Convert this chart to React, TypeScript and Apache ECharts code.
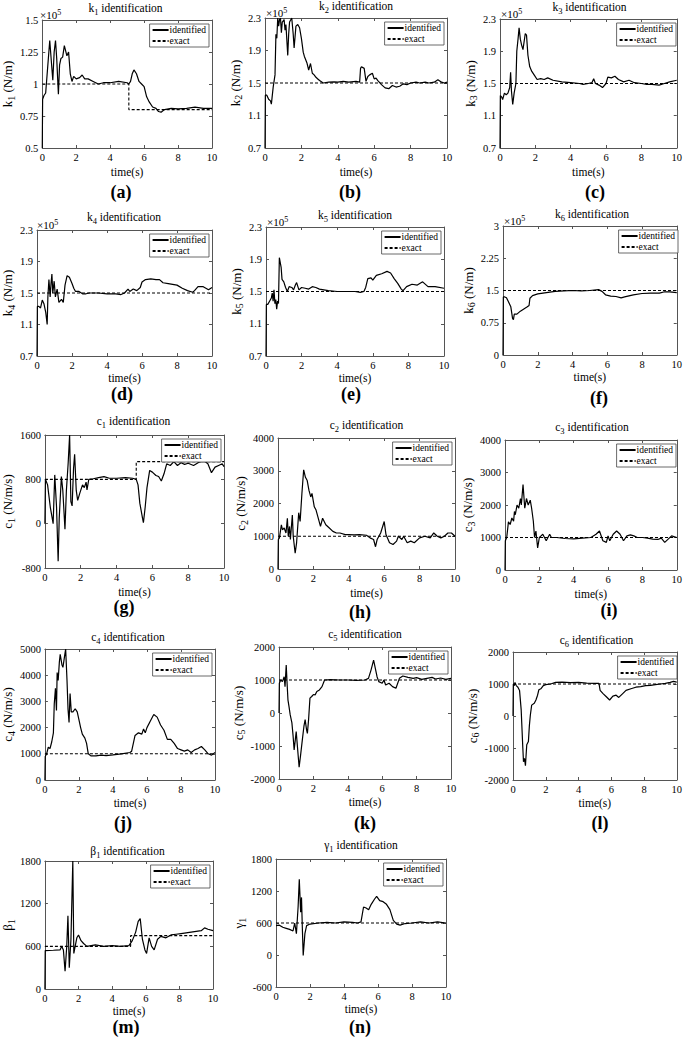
import React, { useEffect, useRef } from "react";
import * as echarts from "echarts";

const FONT = "'Liberation Serif', 'Times New Roman', serif";

// ---------- tick values ----------
const timeTicks = [0, 2, 4, 6, 8, 10];
const k1Ticks = [0.5, 0.75, 1, 1.25, 1.5];
const kTicks = [0.7, 1.1, 1.5, 1.9, 2.3];
const k6Ticks = [0, 0.75, 1.5, 2.25, 3];
const c1Ticks = [-800, 0, 800, 1600];
const c23Ticks = [0, 1000, 2000, 3000, 4000];
const c4Ticks = [0, 1000, 2000, 3000, 4000, 5000];
const c56Ticks = [-2000, -1000, 0, 1000, 2000];
const betaTicks = [0, 600, 1200, 1800];
const gammaTicks = [-600, 0, 600, 1200, 1800];

// ---------- data: [time(s), value] ----------
const k1Identified = [[0,0.5],[0.02,0.88],[0.1,0.91],[0.2,0.93],[0.3,1.1],[0.44,1.34],[0.55,1.15],[0.62,1.03],[0.7,1.25],[0.78,1.34],[0.85,1.2],[0.95,0.92],[1.02,1.15],[1.1,1.2],[1.2,1.21],[1.3,1.3],[1.45,1.22],[1.55,1.25],[1.65,1.08],[1.75,1.02],[1.85,1.06],[2.0,1.04],[2.2,1.05],[2.35,1.07],[2.5,1.04],[2.7,1.04],[3.0,1.02],[3.3,1.0],[3.6,1.01],[4.0,1.01],[4.5,1.02],[5.0,1.01],[5.1,1.0],[5.2,1.02],[5.3,1.08],[5.4,1.11],[5.55,1.08],[5.7,1.02],[5.85,1.0],[6.0,0.98],[6.15,0.9],[6.3,0.86],[6.5,0.82],[6.7,0.81],[6.85,0.785],[7.0,0.78],[7.2,0.8],[7.6,0.81],[8.0,0.805],[8.5,0.81],[9.0,0.82],[9.5,0.81],[10,0.81]];
const k1Exact = [[0,1],[5.1,1],[5.1,0.8],[10,0.8]];

const k2Identified = [[0,0.7],[0.02,1.35],[0.1,1.35],[0.2,1.3],[0.3,1.28],[0.35,1.24],[0.45,1.45],[0.55,1.6],[0.6,2.1],[0.65,2.05],[0.7,2.3],[0.75,2.2],[0.8,2.28],[0.85,2.3],[0.9,2.12],[0.95,2.25],[1.05,2.28],[1.1,2.15],[1.15,2.22],[1.25,1.84],[1.3,2.1],[1.35,2.25],[1.47,2.3],[1.55,2.1],[1.6,1.93],[1.7,2.2],[1.8,2.22],[1.9,2.18],[2.0,2.05],[2.1,1.88],[2.16,1.83],[2.3,1.75],[2.4,1.66],[2.5,1.74],[2.6,1.62],[2.7,1.6],[2.8,1.57],[2.9,1.55],[3.0,1.53],[3.2,1.5],[3.5,1.51],[3.8,1.515],[4.0,1.51],[4.3,1.52],[4.6,1.51],[5.0,1.52],[5.2,1.51],[5.25,1.68],[5.3,1.7],[5.45,1.68],[5.55,1.52],[5.65,1.58],[5.75,1.6],[5.9,1.62],[6.0,1.55],[6.1,1.56],[6.2,1.53],[6.4,1.48],[6.6,1.44],[6.8,1.43],[7.0,1.47],[7.2,1.45],[7.4,1.46],[7.6,1.49],[7.8,1.48],[8.0,1.5],[8.3,1.51],[8.5,1.5],[8.8,1.51],[9.0,1.5],[9.3,1.51],[9.5,1.54],[9.7,1.51],[9.85,1.5],[10,1.51]];
const k3Identified = [[0,0.7],[0.02,1.35],[0.1,1.33],[0.15,1.3],[0.25,1.38],[0.35,1.36],[0.45,1.38],[0.55,1.45],[0.6,1.64],[0.65,1.4],[0.72,1.24],[0.8,1.38],[0.9,1.5],[0.95,1.9],[1.02,2.05],[1.08,2.19],[1.15,2.05],[1.22,1.98],[1.3,1.92],[1.43,2.12],[1.5,2.1],[1.58,1.85],[1.68,1.71],[1.8,1.65],[1.95,1.6],[2.1,1.55],[2.3,1.56],[2.5,1.55],[2.7,1.57],[3.0,1.54],[3.5,1.52],[4.0,1.51],[4.5,1.5],[4.7,1.49],[5.0,1.5],[5.2,1.51],[5.3,1.56],[5.4,1.5],[5.6,1.48],[5.8,1.45],[6.0,1.5],[6.1,1.58],[6.3,1.57],[6.5,1.59],[6.7,1.55],[7.0,1.52],[7.3,1.54],[7.6,1.51],[8.0,1.5],[8.3,1.49],[8.6,1.49],[9.0,1.48],[9.3,1.5],[9.6,1.52],[10,1.54]];
const k4Identified = [[0,0.7],[0.02,1.33],[0.1,1.33],[0.2,1.31],[0.3,1.41],[0.4,1.36],[0.5,1.25],[0.58,1.1],[0.62,1.45],[0.68,1.67],[0.75,1.45],[0.8,1.62],[0.85,1.74],[0.9,1.5],[0.98,1.65],[1.05,1.45],[1.15,1.55],[1.25,1.38],[1.4,1.42],[1.5,1.38],[1.6,1.6],[1.72,1.72],[1.85,1.7],[2.0,1.62],[2.1,1.56],[2.2,1.52],[2.4,1.52],[2.6,1.49],[2.8,1.49],[3.0,1.5],[3.5,1.5],[4.0,1.49],[4.5,1.49],[4.8,1.48],[5.0,1.5],[5.2,1.55],[5.3,1.52],[5.5,1.55],[5.7,1.53],[5.9,1.57],[6.0,1.64],[6.2,1.67],[6.5,1.68],[6.8,1.67],[7.0,1.67],[7.2,1.63],[7.5,1.62],[8.0,1.6],[8.3,1.56],[8.6,1.53],[8.9,1.51],[9.0,1.53],[9.2,1.58],[9.5,1.58],[9.8,1.54],[10,1.57]];
const k5Identified = [[0,0.7],[0.02,1.34],[0.1,1.34],[0.2,1.38],[0.3,1.42],[0.35,1.48],[0.4,1.38],[0.45,1.52],[0.5,1.35],[0.55,1.4],[0.6,1.28],[0.65,1.38],[0.7,1.35],[0.75,1.92],[0.85,1.8],[0.9,1.65],[1.0,1.62],[1.1,1.55],[1.2,1.5],[1.3,1.56],[1.45,1.55],[1.55,1.52],[1.65,1.58],[1.72,1.61],[1.85,1.52],[2.0,1.55],[2.2,1.54],[2.4,1.53],[2.6,1.56],[2.8,1.55],[3.0,1.53],[3.5,1.51],[4.0,1.5],[4.5,1.5],[5.0,1.5],[5.3,1.49],[5.5,1.5],[5.6,1.55],[5.72,1.66],[5.9,1.67],[6.0,1.64],[6.2,1.7],[6.5,1.72],[6.8,1.75],[7.0,1.73],[7.2,1.66],[7.4,1.6],[7.6,1.53],[7.7,1.51],[7.9,1.56],[8.2,1.59],[8.5,1.58],[8.8,1.62],[9.1,1.56],[9.5,1.56],[10,1.54]];
const k6Identified = [[0,0],[0.02,1.35],[0.1,1.35],[0.2,1.33],[0.3,1.25],[0.45,1.12],[0.55,0.85],[0.6,0.82],[0.65,0.95],[0.8,0.95],[1.0,1.02],[1.2,1.07],[1.4,1.12],[1.5,1.15],[1.55,1.32],[1.7,1.38],[2.0,1.42],[2.5,1.45],[3.0,1.48],[3.5,1.49],[4.0,1.5],[4.5,1.49],[5.0,1.5],[5.5,1.52],[5.7,1.48],[5.9,1.4],[6.2,1.37],[6.5,1.36],[6.8,1.33],[7.0,1.35],[7.5,1.4],[8.0,1.43],[8.5,1.44],[9.0,1.44],[9.3,1.47],[9.6,1.47],[10,1.45]];
const kExact = [[0,1.5],[10,1.5]];

const c1Identified = [[0,0],[0.03,800],[0.15,700],[0.3,300],[0.46,0],[0.55,880],[0.65,300],[0.74,-680],[0.8,100],[0.92,850],[1.0,600],[1.12,-100],[1.2,600],[1.3,1100],[1.38,1600],[1.45,400],[1.52,320],[1.6,1000],[1.66,1250],[1.75,600],[1.83,420],[1.95,550],[2.1,700],[2.2,650],[2.3,750],[2.35,610],[2.45,800],[2.7,810],[3.0,830],[3.3,850],[3.6,820],[4.0,820],[4.5,830],[4.9,820],[5.1,800],[5.2,700],[5.3,370],[5.45,100],[5.5,20],[5.6,300],[5.7,650],[5.85,960],[6.0,930],[6.2,870],[6.35,850],[6.5,770],[6.65,900],[6.8,1080],[7.0,1050],[7.2,1120],[7.4,1050],[7.6,1100],[7.8,1070],[8.0,1090],[8.3,1050],[8.6,1110],[8.9,1130],[9.1,1080],[9.3,920],[9.5,1020],[9.7,1050],[9.9,1080],[10,1030]];
const c1Exact = [[0,800],[5.1,800],[5.1,1120],[10,1120]];

const c2Identified = [[0,0],[0.02,900],[0.08,950],[0.19,1350],[0.25,1200],[0.35,1250],[0.45,1100],[0.53,1550],[0.58,1000],[0.65,1300],[0.7,900],[0.81,1650],[0.86,1000],[0.97,480],[1.05,800],[1.17,1720],[1.25,1450],[1.35,2300],[1.45,3030],[1.55,2800],[1.65,2700],[1.75,2400],[1.85,2200],[1.92,2310],[2.05,1900],[2.15,1800],[2.3,1500],[2.4,1300],[2.52,1550],[2.7,1350],[2.9,1250],[3.1,1150],[3.3,1100],[3.5,1100],[3.8,1050],[4.0,1050],[4.3,1040],[4.6,1050],[5.0,1030],[5.2,950],[5.4,900],[5.51,680],[5.6,900],[5.8,1100],[6.0,1450],[6.1,1050],[6.3,800],[6.5,750],[6.7,850],[6.8,1000],[7.0,900],[7.1,1000],[7.3,800],[7.5,850],[7.7,800],[8.0,950],[8.3,1000],[8.6,950],[8.8,1100],[9.0,1000],[9.2,950],[9.4,1000],[9.6,1100],[9.8,1100],[10,1000]];
const c3Identified = [[0,0],[0.02,900],[0.1,1000],[0.2,1480],[0.3,1400],[0.4,1600],[0.5,1500],[0.55,1800],[0.6,1700],[0.7,2000],[0.8,1900],[0.9,2200],[0.95,2000],[1.05,2630],[1.15,1900],[1.25,2200],[1.35,2000],[1.47,2150],[1.55,1900],[1.65,1500],[1.72,1000],[1.8,1200],[1.9,680],[2.0,1000],[2.1,1050],[2.2,1100],[2.4,900],[2.6,1100],[2.7,1000],[3.0,1000],[3.5,970],[4.0,960],[4.5,980],[5.0,1000],[5.3,1100],[5.5,1200],[5.7,900],[5.9,850],[6.0,1050],[6.1,900],[6.3,1100],[6.5,1200],[6.7,1100],[6.9,900],[7.1,1050],[7.3,1080],[7.5,1050],[7.7,1000],[8.0,1000],[8.3,980],[8.6,950],[8.9,940],[9.1,980],[9.3,850],[9.5,950],[9.7,1050],[10,1000]];
const c4Identified = [[0,0],[0.02,900],[0.1,1000],[0.2,1250],[0.3,1200],[0.4,1450],[0.5,1800],[0.55,2900],[0.62,3500],[0.68,2650],[0.72,4100],[0.78,3800],[0.85,4500],[0.9,4800],[1.0,4400],[1.06,4300],[1.15,4700],[1.22,5000],[1.3,3800],[1.36,2700],[1.42,2200],[1.48,3300],[1.55,2600],[1.65,2600],[1.78,2720],[1.9,2600],[2.0,2300],[2.1,2000],[2.2,1750],[2.35,1600],[2.45,1400],[2.55,1000],[2.7,920],[3.0,920],[3.3,950],[3.6,930],[4.0,960],[4.5,1000],[5.0,1050],[5.1,1100],[5.3,1700],[5.5,1800],[5.7,1750],[5.8,1950],[5.9,1800],[6.0,2000],[6.2,2250],[6.4,2500],[6.6,2400],[6.8,2100],[7.0,1900],[7.2,1550],[7.4,1550],[7.6,1400],[7.8,1200],[8.0,1150],[8.2,1100],[8.4,1150],[8.6,1050],[8.8,1150],[9.0,1200],[9.2,1280],[9.4,1150],[9.6,1000],[9.8,950],[10,1050]];
const c5Identified = [[0,0],[0.02,900],[0.1,1000],[0.2,950],[0.3,1100],[0.35,800],[0.42,1450],[0.47,900],[0.52,400],[0.58,200],[0.65,-50],[0.75,-300],[0.82,-700],[0.88,-1120],[0.95,-800],[1.0,-560],[1.1,-1200],[1.17,-1640],[1.25,-1300],[1.36,-800],[1.45,-400],[1.52,-200],[1.6,-500],[1.65,-620],[1.72,-200],[1.8,450],[1.9,500],[2.0,560],[2.1,550],[2.2,650],[2.35,700],[2.5,800],[2.65,1000],[3.0,1010],[3.5,1000],[4.0,1000],[4.5,990],[5.0,1000],[5.2,1050],[5.35,1300],[5.5,1600],[5.6,1350],[5.7,1100],[5.8,950],[6.0,900],[6.1,1000],[6.2,850],[6.4,900],[6.6,800],[6.8,750],[7.0,1050],[7.2,1120],[7.5,1080],[7.8,1050],[8.0,1070],[8.3,1020],[8.6,1050],[8.9,1080],[9.1,1030],[9.4,1060],[9.7,1020],[10,1050]];
const c6Identified = [[0,0],[0.02,1000],[0.08,950],[0.12,1050],[0.2,950],[0.3,900],[0.4,800],[0.5,190],[0.6,-1000],[0.64,-1430],[0.7,-1320],[0.76,-1550],[0.84,-900],[0.94,-800],[1.0,-300],[1.06,30],[1.14,340],[1.3,400],[1.4,500],[1.5,650],[1.58,820],[1.7,850],[1.85,950],[2.0,980],[2.3,1000],[2.6,1050],[3.0,1060],[3.5,1040],[4.0,1050],[4.5,1030],[5.0,1020],[5.25,1020],[5.32,800],[5.5,700],[5.7,600],[5.9,500],[6.1,620],[6.3,650],[6.46,580],[6.7,700],[6.9,800],[7.2,850],[7.5,900],[7.8,920],[8.1,950],[8.4,960],[8.7,980],[9.0,1000],[9.3,1020],[9.6,1050],[9.8,1080],[10,1060]];
const cExact = [[0,1000],[10,1000]];

const betaIdentified = [[0,0],[0.02,540],[0.5,545],[0.9,550],[1.0,600],[1.1,550],[1.2,250],[1.3,600],[1.37,1030],[1.45,300],[1.55,700],[1.66,1800],[1.72,500],[1.8,600],[1.9,720],[2.0,760],[2.15,680],[2.3,640],[2.5,600],[3.0,620],[3.5,600],[4.0,610],[4.5,600],[5.0,610],[5.2,680],[5.4,800],[5.55,950],[5.67,990],[5.8,700],[5.95,550],[6.05,500],[6.2,720],[6.35,600],[6.5,550],[6.7,700],[6.9,740],[7.2,720],[7.5,760],[7.8,770],[8.1,780],[8.4,790],[8.7,800],[9.0,810],[9.3,820],[9.5,860],[9.7,840],[10,820]];
const betaExact = [[0,600],[5.1,600],[5.1,750],[10,750]];

const gammaIdentified = [[0,550],[0.2,560],[0.4,520],[0.6,500],[0.8,480],[1.0,450],[1.1,600],[1.2,400],[1.3,900],[1.37,1420],[1.45,800],[1.5,1080],[1.55,500],[1.6,-10],[1.7,400],[1.8,550],[2.0,580],[2.5,600],[3.0,610],[3.5,600],[4.0,620],[4.5,610],[4.8,600],[5.0,620],[5.15,900],[5.3,880],[5.45,850],[5.6,950],[5.8,1050],[5.92,1100],[6.1,1020],[6.3,1000],[6.5,950],[6.7,850],[6.9,650],[7.1,580],[7.3,560],[7.6,590],[8.0,600],[8.5,620],[9.0,600],[9.5,620],[10,600]];
const gammaExact = [[0,600],[10,600]];

// ---------- panel layout ----------
type Panel = {
  sym: string; sub: string; unit: string; label: string;
  grid: number[]; ticks: number[]; ident: number[][]; exact: number[][];
  exp: boolean; nameGap: number; titleY: number; labelX: number; labelY: number; xNameGap: number;
};

const panels: Panel[] = [
  { sym: "k", sub: "1", unit: " (N/m)", label: "(a)", grid: [39, 20, 173, 128], ticks: k1Ticks, ident: k1Identified, exact: k1Exact, exp: true, nameGap: 23, titleY: 8, labelX: 121, labelY: 192, xNameGap: 18 },
  { sym: "k", sub: "2", unit: " (N/m)", label: "(b)", grid: [265, 18, 182, 130], ticks: kTicks, ident: k2Identified, exact: kExact, exp: true, nameGap: 19, titleY: 6, labelX: 350, labelY: 192, xNameGap: 18 },
  { sym: "k", sub: "3", unit: " (N/m)", label: "(c)", grid: [500, 19, 179, 129], ticks: kTicks, ident: k3Identified, exact: kExact, exp: true, nameGap: 20, titleY: 7, labelX: 595, labelY: 192, xNameGap: 18 },
  { sym: "k", sub: "4", unit: " (N/m)", label: "(d)", grid: [36, 230, 176, 126], ticks: kTicks, ident: k4Identified, exact: kExact, exp: true, nameGap: 20, titleY: 217, labelX: 122, labelY: 394, xNameGap: 16 },
  { sym: "k", sub: "5", unit: " (N/m)", label: "(e)", grid: [266, 227, 178, 129], ticks: kTicks, ident: k5Identified, exact: kExact, exp: true, nameGap: 20, titleY: 215, labelX: 351, labelY: 394, xNameGap: 16 },
  { sym: "k", sub: "6", unit: " (N/m)", label: "(f)", grid: [503, 226, 178, 129], ticks: k6Ticks, ident: k6Identified, exact: kExact, exp: true, nameGap: 25, titleY: 214, labelX: 599, labelY: 398, xNameGap: 16 },
  { sym: "c", sub: "1", unit: " (N/m/s)", label: "(g)", grid: [43, 435, 181, 133], ticks: c1Ticks, ident: c1Identified, exact: c1Exact, exp: false, nameGap: 27, titleY: 421, labelX: 124, labelY: 607, xNameGap: 18 },
  { sym: "c", sub: "2", unit: " (N/m/s)", label: "(h)", grid: [278, 438, 177, 131], ticks: c23Ticks, ident: c2Identified, exact: cExact, exp: false, nameGap: 29, titleY: 425, labelX: 360, labelY: 612, xNameGap: 18 },
  { sym: "c", sub: "3", unit: " (N/m/s)", label: "(i)", grid: [505, 440, 174, 130], ticks: c23Ticks, ident: c3Identified, exact: cExact, exp: false, nameGap: 29, titleY: 427, labelX: 609, labelY: 610, xNameGap: 18 },
  { sym: "c", sub: "4", unit: " (N/m/s)", label: "(j)", grid: [41, 649, 174, 131], ticks: c4Ticks, ident: c4Identified, exact: cExact, exp: false, nameGap: 26, titleY: 637, labelX: 123, labelY: 823, xNameGap: 17 },
  { sym: "c", sub: "5", unit: " (N/m/s)", label: "(k)", grid: [279, 647, 172, 132], ticks: c56Ticks, ident: c5Identified, exact: cExact, exp: false, nameGap: 31, titleY: 634, labelX: 365, labelY: 823, xNameGap: 17 },
  { sym: "c", sub: "6", unit: " (N/m/s)", label: "(l)", grid: [513, 652, 167, 128], ticks: c56Ticks, ident: c6Identified, exact: cExact, exp: false, nameGap: 28, titleY: 640, labelX: 600, labelY: 823, xNameGap: 17 },
  { sym: "β", sub: "1", unit: "", label: "(m)", grid: [42, 861, 171, 128], ticks: betaTicks, ident: betaIdentified, exact: betaExact, exp: false, nameGap: 25, titleY: 851, labelX: 126, labelY: 1027, xNameGap: 16 },
  { sym: "γ", sub: "1", unit: "", label: "(n)", grid: [276, 859, 170, 128], ticks: gammaTicks, ident: gammaIdentified, exact: gammaExact, exp: false, nameGap: 26, titleY: 845, labelX: 360, labelY: 1027, xNameGap: 16 },
];

const AXIS_COLOR = "#555";
const W = 685;

function richStyles(size: number) {
  return {
    m: { fontFamily: FONT, fontSize: size, color: "#000", fill: "#000" },
    s: { fontFamily: FONT, fontSize: size - 3, color: "#000", fill: "#000", padding: [7, 0, 0, 0] },
    p: { fontFamily: FONT, fontSize: size - 3, color: "#000", fill: "#000", padding: [0, 0, 6, 0] },
  };
}

function buildOption() {
  const grid: any[] = [];
  const xAxis: any[] = [];
  const yAxis: any[] = [];
  const series: any[] = [];
  const legend: any[] = [];
  const elements: any[] = [];

  panels.forEach((p, i) => {
    const [l, t, w, h] = p.grid;
    const ymin = p.ticks[0];
    const ymax = p.ticks[p.ticks.length - 1];
    grid.push({ left: l, top: t, width: w, height: h, containLabel: false });
    const lineStyle = { color: AXIS_COLOR, width: 1 };
    const tickStyle = { color: AXIS_COLOR, width: 1 };
    xAxis.push({
      type: "value", gridIndex: i, min: 0, max: 10, position: "bottom",
      axisLine: { show: true, onZero: false, lineStyle },
      axisTick: { show: true, inside: true, length: 3, customValues: timeTicks, lineStyle: tickStyle },
      axisLabel: { customValues: timeTicks, color: "#000", fontSize: 10.5, fontFamily: FONT, margin: 4, formatter: (v: number) => String(v) },
      splitLine: { show: false },
      name: "time(s)", nameLocation: "middle", nameGap: p.xNameGap,
      nameTextStyle: { fontFamily: FONT, fontSize: 11.5, color: "#000" },
    });
    xAxis.push({
      type: "value", gridIndex: i, min: 0, max: 10, position: "top",
      axisLine: { show: true, onZero: false, lineStyle },
      axisTick: { show: true, inside: true, length: 3, customValues: timeTicks, lineStyle: tickStyle },
      axisLabel: { show: false }, splitLine: { show: false },
    });
    yAxis.push({
      type: "value", gridIndex: i, min: ymin, max: ymax, position: "left",
      axisLine: { show: true, onZero: false, lineStyle },
      axisTick: { show: true, inside: true, length: 3, customValues: p.ticks, lineStyle: tickStyle },
      axisLabel: { customValues: p.ticks, color: "#000", fontSize: 10.5, fontFamily: FONT, margin: 4, formatter: (v: number) => String(v) },
      splitLine: { show: false },
      name: `{m|${p.sym}}{s|${p.sub}}{m|${p.unit}}`, nameLocation: "middle", nameGap: p.nameGap, nameRotate: 90,
      nameTextStyle: { fontFamily: FONT, fontSize: 13, color: "#000", rich: richStyles(13) },
    });
    yAxis.push({
      type: "value", gridIndex: i, min: ymin, max: ymax, position: "right",
      axisLine: { show: true, onZero: false, lineStyle },
      axisTick: { show: true, inside: true, length: 3, customValues: p.ticks, lineStyle: tickStyle },
      axisLabel: { show: false }, splitLine: { show: false },
    });
    series.push({
      type: "line", name: "identified", xAxisIndex: 2 * i, yAxisIndex: 2 * i, data: p.ident,
      symbol: "none", showSymbol: false, lineStyle: { color: "#000", width: 1.2 }, itemStyle: { color: "#000" }, z: 3,
    });
    series.push({
      type: "line", name: "exact", xAxisIndex: 2 * i, yAxisIndex: 2 * i, data: p.exact,
      symbol: "none", showSymbol: false, lineStyle: { color: "#000", width: 1.1, type: [3, 2] }, itemStyle: { color: "#000" }, z: 2,
    });
    legend.push({
      data: ["identified", "exact"], orient: "vertical",
      right: W - (l + w) + 3, top: t + 4,
      itemWidth: 16, itemHeight: 9, itemGap: 1,
      padding: [1, 3, 1, 2],
      itemStyle: { opacity: 0 },
      backgroundColor: "#fff", borderColor: "#444", borderWidth: 0.8, borderRadius: 0,
      textStyle: { fontFamily: FONT, fontSize: 9.5, color: "#000", padding: [0, 0, 0, -4] },
      selectedMode: false,
    });
    const cx = l + w / 2;
    elements.push({
      type: "text", x: cx, y: p.titleY,
      style: {
        text: `{m|${p.sym}}{s|${p.sub}}{m| identification}`, rich: richStyles(11.5),
        align: "center", verticalAlign: "middle", textAlign: "center", textVerticalAlign: "middle",
        fill: "#000", font: `11.5px ${FONT}`,
      },
    });
    elements.push({
      type: "text", x: p.labelX, y: p.labelY,
      style: {
        text: p.label, align: "center", verticalAlign: "middle", textAlign: "center", textVerticalAlign: "middle",
        fill: "#000", font: `bold 18px ${FONT}`,
      },
    });
    if (p.exp) {
      elements.push({
        type: "text", x: l + 1, y: t - 5,
        style: {
          text: "{m|×10}{p|5}", rich: richStyles(11),
          align: "left", verticalAlign: "middle", textAlign: "left", textVerticalAlign: "middle",
          fill: "#000", font: `11px ${FONT}`,
        },
      });
    }
  });

  return {
    animation: false,
    backgroundColor: "#fff",
    grid, xAxis, yAxis, series, legend,
    graphic: { elements },
  };
}

export default function App() {
  const ref = useRef<HTMLDivElement>(null);
  useEffect(() => {
    if (!ref.current) return;
    const chart = echarts.init(ref.current, undefined, { renderer: "svg" });
    chart.setOption(buildOption() as any);
    return () => chart.dispose();
  }, []);
  return (
    <div
      ref={ref}
      style={{ position: "absolute", left: 0, top: 0, width: 685, height: 1039, background: "#fff" }}
    />
  );
}
